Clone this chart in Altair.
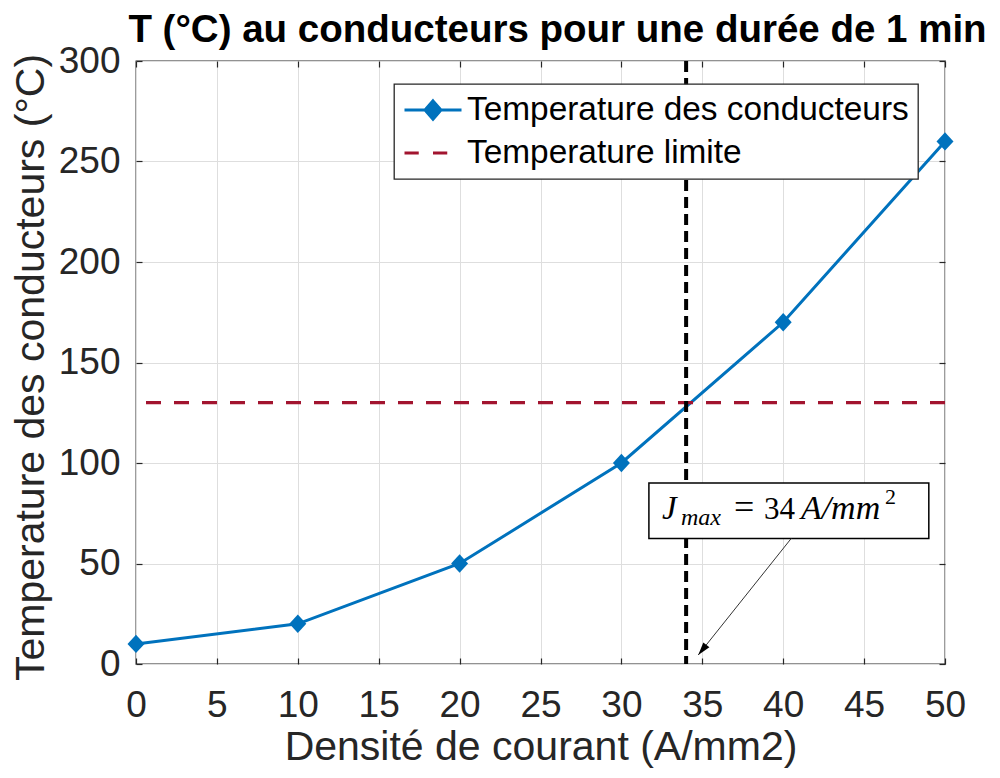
import altair as alt
import pandas as pd

# ---------------- data ----------------
J = [0, 10, 20, 30, 40, 50]                 # Densité de courant (A/mm2)
T = [10, 20, 50, 100, 170, 260]             # Temperature des conducteurs (°C)
T_LIMIT = [130]                             # Temperature limite
J_MAX = [34]                                # J max
X_TICKS = [0, 5, 10, 15, 20, 25, 30, 35, 40, 45, 50]
Y_TICKS = [0, 50, 100, 150, 200, 250, 300]
SERIES = ["Temperature des conducteurs", "Temperature limite"]
TITLE = "T (°C) au conducteurs pour une durée de 1 min"
X_TITLE = "Densité de courant (A/mm2)"
Y_TITLE = "Temperature des conducteurs (°C)"
ANNOT_PARTS = ["J", "max", "=", "34", "A/mm", "2"]
# annotation anchors (data units)
BOX_X = [31.7, 49.0]
BOX_Y = [62.5, 90.0]
TEXT_X = [31.7]
TEXT_Y = [72.1]
ARROW_X = [40.5, 34.75]
ARROW_Y = [62.5, 4.5]
HEAD_X = [35.0]
HEAD_Y = [7.0]

# ---------------- style ----------------
BLUE = "#0072BD"
RED = "#A2142F"
AXC = "#262626"
GRID = "#dedede"
SANS = "Liberation Sans"
SERIF = "Liberation Serif"
DIAMOND = "M0,-1.08L1,0L0,1.08L-1,0Z"
SYM_LINE = "M-1,0H1M0,-0.32L0.28,0L0,0.32L-0.28,0Z"
SYM_DASH = "M-1,0H-0.5M0,0H0.5"
ARROW_PATH = "M0,-1L0.6,1L-0.6,1Z"

curve = pd.DataFrame({"J": J, "T": T})
limit = pd.DataFrame({"T": T_LIMIT})
jmax = pd.DataFrame({"J": J_MAX})
box = pd.DataFrame({"x": [BOX_X[0]], "x2": [BOX_X[1]], "y": [BOX_Y[0]], "y2": [BOX_Y[1]]})
arrow = pd.DataFrame({"x": [ARROW_X[0]], "x2": [ARROW_X[1]], "y": [ARROW_Y[0]], "y2": [ARROW_Y[1]]})
head = pd.DataFrame({"x": HEAD_X, "y": HEAD_Y})
text_anchor = pd.DataFrame({"x": TEXT_X, "y": TEXT_Y})
legend_df = pd.DataFrame({"series": SERIES})

XS = alt.Scale(domain=[0, 50], nice=False, zero=False)
YS = alt.Scale(domain=[0, 300], nice=False, zero=False)


def ax_inward(orient, values):
    return alt.Axis(orient=orient, values=values, offset=-6, ticks=True, tickSize=6,
                    tickWidth=1.2, tickColor=AXC, labels=False, domain=False,
                    grid=False, title=None)


main_x = alt.Axis(orient="bottom", values=X_TICKS, grid=True, gridColor=GRID, gridWidth=1,
                  ticks=False, tickSize=0, domain=False, labelFontSize=37, labelFont=SANS,
                  labelColor=AXC, labelPadding=23, labelFlush=False, labelOverlap=False,
                  title=X_TITLE, titleFont=SANS, titleFontSize=41, titleFontWeight="normal",
                  titleColor=AXC, titleBaseline="alphabetic", titleY=95, titleX=404.5)
main_y = alt.Axis(orient="left", values=Y_TICKS, grid=True, gridColor=GRID, gridWidth=1,
                  ticks=False, tickSize=0, domain=False, labelFontSize=37, labelFont=SANS,
                  labelColor=AXC, labelPadding=16, labelFlush=False, labelOverlap=False,
                  title=Y_TITLE, titleFont=SANS, titleFontSize=41, titleFontWeight="normal",
                  titleColor=AXC, titleAngle=270, titleBaseline="alphabetic",
                  titleAlign="center", titleX=-93, titleY=306)

line = alt.Chart(curve).mark_line(color=BLUE, strokeWidth=3).encode(
    x=alt.X("J:Q", scale=XS, axis=main_x),
    y=alt.Y("T:Q", scale=YS, axis=main_y),
)
points = alt.Chart(curve).mark_point(filled=True, shape=DIAMOND, size=289, color=BLUE,
                                     opacity=1).encode(
    x=alt.X("J:Q", scale=XS, axis=ax_inward("bottom", X_TICKS)),
    y=alt.Y("T:Q", scale=YS, axis=ax_inward("left", Y_TICKS)),
)
hline = alt.Chart(limit).mark_rule(color=RED, strokeWidth=3.2, strokeDash=[15, 13]).encode(
    y=alt.Y("T:Q", scale=YS, axis=None)
)
vline = alt.Chart(jmax).mark_rule(color="black", strokeWidth=4, strokeDash=[11, 6]).encode(
    x=alt.X("J:Q", scale=XS, axis=None)
)
box_l = alt.Chart(box).mark_rect(fill="white", stroke="black", strokeWidth=1.5).encode(
    x=alt.X("x:Q", scale=XS, axis=ax_inward("top", X_TICKS)), x2="x2",
    y=alt.Y("y:Q", scale=YS, axis=ax_inward("right", Y_TICKS)), y2="y2",
)
arrow_l = alt.Chart(arrow).mark_rule(color="#333333", strokeWidth=1).encode(
    x=alt.X("x:Q", scale=XS, axis=None), x2="x2",
    y=alt.Y("y:Q", scale=YS, axis=None), y2="y2",
)
head_l = alt.Chart(head).mark_point(shape=ARROW_PATH, size=169, filled=True, color="black",
                                    angle=218.7, opacity=1).encode(
    x=alt.X("x:Q", scale=XS, axis=None),
    y=alt.Y("y:Q", scale=YS, axis=None),
)


def part(txt, dx, dy, size, italic):
    return alt.Chart(text_anchor).mark_text(
        text=txt, align="left", baseline="alphabetic", dx=dx, dy=dy, fontSize=size,
        font=SERIF, fontStyle="italic" if italic else "normal", color="black",
    ).encode(x=alt.X("x:Q", scale=XS, axis=None), y=alt.Y("y:Q", scale=YS, axis=None))


texts = [
    part(ANNOT_PARTS[0], 13, 0, 33, True),
    part(ANNOT_PARTS[1], 32, 6, 24, True),
    part(ANNOT_PARTS[2], 85, 0, 36, False),
    part(ANNOT_PARTS[3], 115, 0, 31, False),
    part(ANNOT_PARTS[4], 152, 0, 34, True),
    part(ANNOT_PARTS[5], 236, -15, 22, False),
]

leg_common = dict(title=None, zindex=2)
leg = alt.Chart(legend_df).mark_point(filled=True, strokeWidth=3, opacity=1).encode(
    fill=alt.Fill("series:N", scale=alt.Scale(domain=SERIES, range=[BLUE, RED]),
                  legend=alt.Legend(**leg_common)),
    stroke=alt.Stroke("series:N", scale=alt.Scale(domain=SERIES, range=[BLUE, RED]),
                      legend=alt.Legend(**leg_common)),
    shape=alt.Shape("series:N", scale=alt.Scale(domain=SERIES, range=[SYM_LINE, SYM_DASH]),
                    legend=alt.Legend(**leg_common)),
).transform_filter("false")

chart = alt.layer(line, points, hline, vline, box_l, arrow_l, head_l, *texts, leg).resolve_axis(
    x="independent", y="independent"
).properties(
    width=809, height=603,
    title=alt.TitleParams(text=TITLE, font=SANS, fontSize=38.5, fontWeight="bold", color="black",
                          anchor="middle", frame="group", dx=17, dy=38, baseline="alphabetic",
                          offset=0),
    autosize=alt.AutoSizeParams(type="none"),
    padding={"left": 128, "top": 53, "right": 47, "bottom": 106},
).configure_view(
    stroke=AXC, strokeWidth=1.3
).configure_legend(
    orient="none", legendX=258, legendY=23, padding=9, fillColor="white",
    strokeColor=AXC, strokeWidth=1.3, cornerRadius=0, labelFont=SANS, labelFontSize=33.4,
    labelColor="black", labelOffset=4, labelLimit=1000, symbolSize=3249,
    symbolStrokeWidth=3, symbolOpacity=1, clipHeight=34, rowPadding=9,
)

chart.save("out.html", embed_options={"renderer": "svg", "actions": False})
